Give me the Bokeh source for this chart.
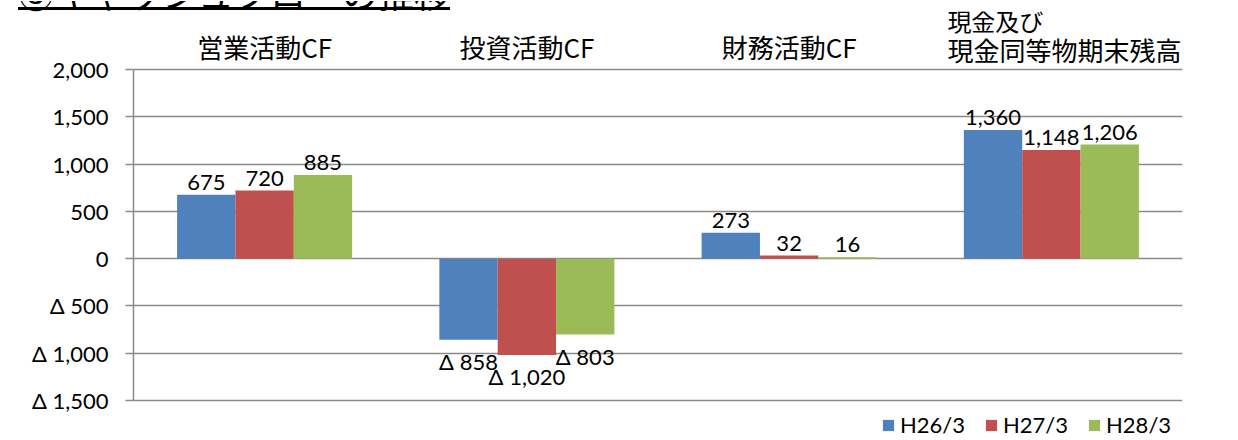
from bokeh.plotting import figure
from bokeh.models import (ColumnDataSource, FactorRange, Range1d, FixedTicker,
                          CustomJSTickFormatter, Legend, LegendItem, Div)
from bokeh.layouts import column
from bokeh.transform import dodge
from bokeh.core.properties import value
from bokeh.embed import file_html
from bokeh.resources import INLINE

# ---- data ----
heading = "③キャッシュフローの推移"
categories = ["営業活動CF", "投資活動CF", "財務活動CF", "現金及び\n現金同等物期末残高"]
series = ["H26/3", "H27/3", "H28/3"]
h26 = [675, -858, 273, 1360]
h27 = [720, -1020, 32, 1148]
h28 = [885, -803, 16, 1206]
y_ticks = [-1500, -1000, -500, 0, 500, 1000, 1500, 2000]

colors = ["#4F81BD", "#C0504D", "#9BBB59"]
NUM_FONT = "Lato"
CJK_FONT = "Noto Sans CJK JP"
GRID = "#8a8a8a"


def fmt(v):
    s = "{:,}".format(abs(v))
    return "Δ " + s if v < 0 else s


# heading strip (cut off at the top in the reference, only its underline shows)
head = Div(text=(
    '<div style="height:11px;overflow:hidden;">'
    '<div style="margin-top:-27px;margin-left:18px;width:432px;height:36px;'
    'font-family:\'Noto Sans CJK JP\';font-size:36px;line-height:36px;'
    'border-bottom:3px solid black;white-space:nowrap;color:black;">'
    + heading + '</div></div>'),
    width=1238, height=11, margin=0)

# plot frame covers the full figure height; value axis restricted to tick bounds
px_per_unit = 331 / 3500.0
fig_h = 429
y_top = y_ticks[-1] + 58 / px_per_unit
y_bot = y_ticks[0] - 40 / px_per_unit

p = figure(width=1238, height=fig_h, output_backend="svg", toolbar_location=None,
           x_range=FactorRange(factors=categories, range_padding=0),
           y_range=Range1d(y_bot, y_top),
           x_axis_location=None, tools="", margin=0)
p.min_border_left = 133
p.min_border_right = 56
p.min_border_top = 0
p.min_border_bottom = 0
p.outline_line_color = None
p.background_fill_color = "white"
p.border_fill_color = "white"

p.xgrid.visible = False
p.ygrid.ticker = FixedTicker(ticks=y_ticks)
p.ygrid.grid_line_color = GRID
p.ygrid.grid_line_width = 1.5

ax = p.yaxis[0]
ax.bounds = (y_ticks[0], y_ticks[-1])
ax.ticker = FixedTicker(ticks=y_ticks)
ax.formatter = CustomJSTickFormatter(code="""
const s = Math.abs(tick).toLocaleString('en-US');
return tick < 0 ? '\u0394 ' + s : s;
""")
ax.axis_line_color = GRID
ax.axis_line_width = 1.5
ax.major_tick_line_color = GRID
ax.major_tick_line_width = 1.5
ax.major_tick_out = 8
ax.major_tick_in = 0
ax.minor_tick_line_color = None
ax.major_label_standoff = 17
ax.major_label_text_font = NUM_FONT
ax.major_label_text_font_size = "22px"
ax.major_label_text_color = "black"

offsets = [-0.2225, 0.0, 0.2225]
values = [h26, h27, h28]
items = []
for name, vals, off, col in zip(series, values, offsets, colors):
    src = ColumnDataSource(dict(
        cat=categories, val=vals,
        lab=[fmt(v) for v in vals],
        base=["bottom" if v >= 0 else "top" for v in vals],
        yoff=[-5 if v >= 0 else 8 for v in vals],
    ))
    r = p.vbar(x=dodge("cat", off, range=p.x_range), top="val", bottom=0,
               width=0.2225, source=src, fill_color=col, line_color=None)
    items.append(LegendItem(label=name, renderers=[r]))
    p.text(x=dodge("cat", off, range=p.x_range), y="val", text="lab", source=src,
           text_align="center", text_baseline="base", y_offset="yoff",
           text_font=value(NUM_FONT), text_font_size="22px", text_color="black")

# category titles above the value area
single = categories[:3]
p.text(x=single, y=[y_ticks[-1]] * len(single), text=single,
       text_align="center", text_baseline="bottom", y_offset=-5,
       text_font=value(CJK_FONT), text_font_size="26px", text_color="black")

# the two-line title of the last category, left aligned
lines = categories[3].split("\n")
msrc = ColumnDataSource(dict(
    cat=[categories[3]] * len(lines),
    top=[y_ticks[-1]] * len(lines),
    txt=lines,
    yoff=[-32, -2],
    size=["24px", "26px"],
))
p.text(x="cat", y="top", text="txt", source=msrc, text_align="left",
       text_baseline="bottom", x_offset=-104, y_offset="yoff",
       text_font=value(CJK_FONT), text_font_size="size", text_color="black")

legend = Legend(items=items, orientation="horizontal", location=(748, 2),
                glyph_width=14, glyph_height=14, label_standoff=5, spacing=19,
                label_text_font=NUM_FONT, label_text_font_size="22px",
                label_text_color="black", border_line_color=None,
                background_fill_alpha=0, padding=0, margin=0)
p.add_layout(legend, "center")

layout = column(head, p, spacing=0, margin=0)
open("out.html", "w").write(file_html(layout, INLINE))
